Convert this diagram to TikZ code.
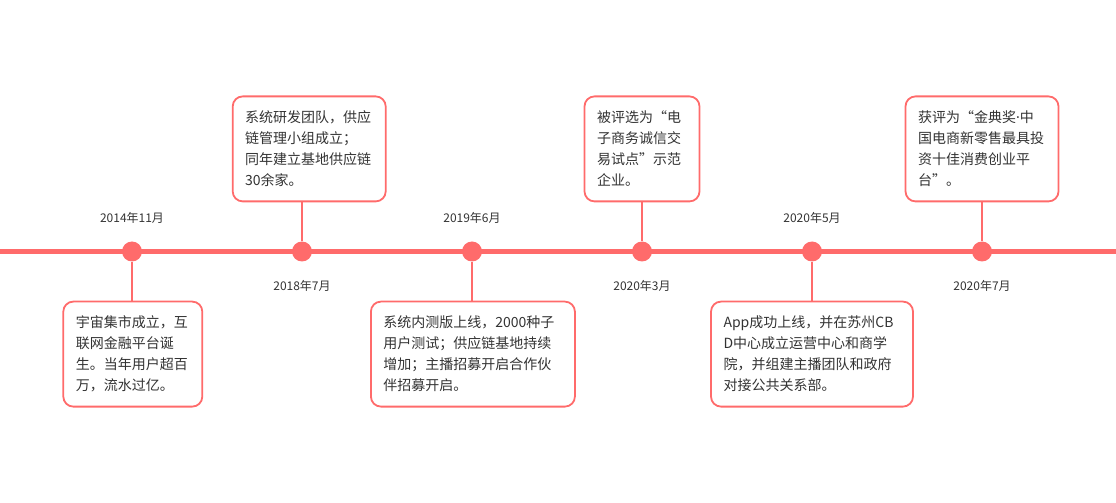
\documentclass[tikz,border=0pt]{standalone}
\usepackage{fontspec}
\setmainfont{Noto Sans CJK SC}
\newfontfamily\latinfont{Noto Sans}
\usepackage{tikz}
\usetikzlibrary{positioning,calc}
\usepackage{xcolor}
\definecolor{tl}{HTML}{FF6B6B}
\definecolor{txt}{HTML}{333333}

\begin{document}
\begin{tikzpicture}[x=1pt,y=1pt,node distance=39pt,
    dot/.style={circle,fill=tl,minimum size=20pt,inner sep=0pt},
    box/.style={draw=tl,line width=1.8pt,rounded corners=10pt,fill=white,text=txt,align=left,
      font=\fontsize{14}{21}\selectfont,inner xsep=12.5pt,minimum height=105pt},
    date/.style={text=txt,font=\fontsize{12}{14}\selectfont,inner sep=0pt},
    conn/.style={tl,line width=1.8pt}]
    \useasboundingbox (0,-251.5) rectangle (1116,251.5);
    \coordinate (l) at (0,0);
    \coordinate (r) at (1116,0);
    \draw[tl,line width=4.5pt] (l)--(r);
    \node[dot] (d1) at (132,0) {};
    \node[dot] (d2) at (302,0) {};
    \node[dot] (d3) at (472,0) {};
    \node[dot] (d4) at (642,0) {};
    \node[dot] (d5) at (812,0) {};
    \node[dot] (d6) at (982,0) {};
    \node[date] (t1) at (132,33.5) {2014年11月};
    \node[date] (t2) at (302,-34.5) {2018年7月};
    \node[date] (t3) at (472,33.5) {2019年6月};
    \node[date] (t4) at (642,-34.5) {2020年3月};
    \node[date] (t5) at (812,33.5) {2020年5月};
    \node[date] (t6) at (982,-34.5) {2020年7月};
    \node[box,text width=114pt,below=of d1,xshift=0.8pt] (b1) {宇宙集市成立，互\\联网金融平台诞\\生。当年用户超百\\万，流水过亿。};
    \node[box,text width=128pt,above=of d2,xshift=7.2pt] (b2) {系统研发团队，供应\\链管理小组成立；\\同年建立基地供应链\\30余家。};
    \node[box,text width=179pt,below=of d3,xshift=0.9pt] (b3) {系统内测版上线，2000种子\\用户测试；供应链基地持续\\增加；主播招募开启合作伙\\伴招募开启。};
    \node[box,text width=90pt,above=of d4] (b4) {被评选为“电\\子商务诚信交\\易试点”示范\\企业。};
    \node[box,text width=177pt,below=of d5] (b5) {App成功上线，并在苏州CB\\D中心成立运营中心和商学\\院，并组建主播团队和政府\\对接公共关系部。};
    \node[box,text width=128pt,above=of d6] (b6) {获评为“金典奖{\latinfont ·}中\\国电商新零售最具投\\资十佳消费创业平\\台”。};
    \draw[conn] (d1)--(d1 |- b1.north);
    \draw[conn] (d2)--(d2 |- b2.south);
    \draw[conn] (d3)--(d3 |- b3.north);
    \draw[conn] (d4)--(d4 |- b4.south);
    \draw[conn] (d5)--(d5 |- b5.north);
    \draw[conn] (d6)--(d6 |- b6.south);
\end{tikzpicture}
\end{document}
